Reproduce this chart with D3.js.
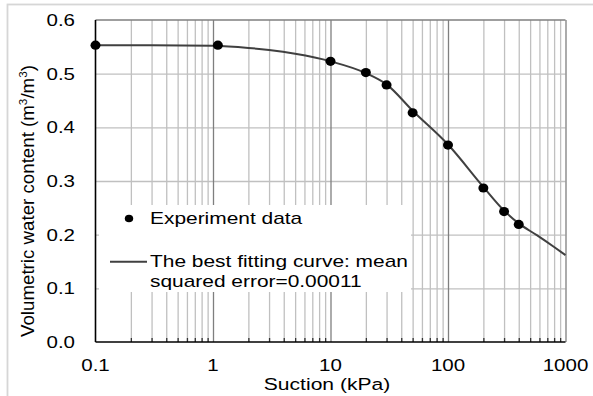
<!DOCTYPE html>
<html>
<head>
<meta charset="utf-8">
<script src="https://cdn.jsdelivr.net/npm/d3@7"></script>
<style>
  body { margin: 0; background: #fff; }
  text { font-family: "Liberation Sans", Arial, sans-serif; fill: #000; }
</style>
</head>
<body>
<svg id="chart" width="593" height="396"></svg>
<script>
// Measured soil-water retention points
const suction = [0.1, 1.1, 10, 20, 30, 50, 100, 200, 300, 400];
const waterContent = [0.553, 0.553, 0.523, 0.502, 0.479, 0.427, 0.367, 0.287, 0.243, 0.219];

// Best fitting curve, sampled along suction
const fitSuction = [0.1, 0.3, 1, 2, 3, 5, 10, 20, 30, 50, 100, 200, 300, 400, 570, 800, 1000];
const fitContent = [0.553, 0.553, 0.552, 0.548, 0.544, 0.537, 0.523, 0.501, 0.480, 0.431, 0.368, 0.289, 0.245, 0.221, 0.199, 0.177, 0.162];

// Axis ticks
const xTicks = [0.1, 1, 10, 100, 1000];
const xTickLabels = ["0.1", "1", "10", "100", "1000"];
const yTicks = [0, 0.1, 0.2, 0.3, 0.4, 0.5, 0.6];
const yTickLabels = ["0.0", "0.1", "0.2", "0.3", "0.4", "0.5", "0.6"];

const legendLabels = ["Experiment data", "The best fitting curve: mean", "squared error=0.00011"];

const svg = d3.select("#chart");
const plot = { left: 95.5, right: 565.5, top: 20, bottom: 342 };

const x = d3.scaleLog().domain([0.1, 1000]).range([plot.left, plot.right]);
const y = d3.scaleLinear().domain([0, 0.6]).range([plot.bottom, plot.top]);

// Minor decade lines 2..9 within every decade
const minorX = [];
[0.1, 1, 10, 100].forEach(d => { for (let k = 2; k <= 9; k++) minorX.push(+(d * k).toPrecision(3)); });

// Outer figure frame
svg.append("rect")
  .attr("x", 7.5).attr("y", 4.5).attr("width", 600).attr("height", 400)
  .attr("fill", "none").attr("stroke", "#d6d6d6").attr("stroke-width", 1.8);

// Horizontal grid
const gy = svg.append("g")
  .attr("transform", `translate(${plot.left},0)`)
  .call(d3.axisLeft(y).tickValues(yTicks.slice(1, 6)).tickSize(-(plot.right - plot.left)).tickFormat(""));
gy.select(".domain").remove();
gy.selectAll("line").attr("stroke", "#c0c0c0").attr("stroke-width", 1.3);

// Minor vertical grid
const gxMinor = svg.append("g")
  .attr("transform", `translate(0,${plot.bottom})`)
  .call(d3.axisBottom(x).tickValues(minorX).tickSize(-(plot.bottom - plot.top)).tickFormat(""));
gxMinor.select(".domain").remove();
gxMinor.selectAll("line").attr("stroke", "#c0c0c0").attr("stroke-width", 1.3);

// Major vertical grid
const gxMajor = svg.append("g")
  .attr("transform", `translate(0,${plot.bottom})`)
  .call(d3.axisBottom(x).tickValues(xTicks.slice(1)).tickSize(-(plot.bottom - plot.top)).tickFormat(""));
gxMajor.select(".domain").remove();
gxMajor.selectAll("line").attr("stroke", "#7f7f7f").attr("stroke-width", 1.3);

// Top frame of the plot area
svg.append("line")
  .attr("x1", plot.left).attr("x2", plot.right)
  .attr("y1", y(0.6)).attr("y2", y(0.6))
  .attr("stroke", "#7f7f7f").attr("stroke-width", 1.3);

// Legend background
svg.append("rect")
  .attr("x", 99).attr("y", 205).attr("width", 312).attr("height", 87)
  .attr("fill", "#fff");

// Minor ticks along the bottom axis
const gTicks = svg.append("g")
  .attr("transform", `translate(0,${plot.bottom})`)
  .call(d3.axisBottom(x).tickValues(minorX).tickSize(-4).tickFormat(""));
gTicks.select(".domain").remove();
gTicks.selectAll("line").attr("stroke", "#333").attr("stroke-width", 1.3);

// Axis lines
svg.append("line")
  .attr("x1", plot.left).attr("x2", plot.left).attr("y1", plot.top).attr("y2", plot.bottom)
  .attr("stroke", "#000").attr("stroke-width", 1.6);
svg.append("line")
  .attr("x1", plot.left).attr("x2", plot.right).attr("y1", plot.bottom).attr("y2", plot.bottom)
  .attr("stroke", "#000").attr("stroke-width", 1.6);

// Fitted curve
const fit = fitSuction.map((s, i) => [s, fitContent[i]]);
svg.append("path")
  .datum(fit)
  .attr("fill", "none")
  .attr("stroke", "#404040")
  .attr("stroke-width", 2)
  .attr("d", d3.line().x(d => x(d[0])).y(d => y(d[1])).curve(d3.curveMonotoneX));

// Experiment points
svg.append("g").selectAll("ellipse")
  .data(suction.map((s, i) => [s, waterContent[i]]))
  .join("ellipse")
  .attr("cx", d => x(d[0])).attr("cy", d => y(d[1]))
  .attr("rx", 5).attr("ry", 4.6)
  .attr("fill", "#000");

// Horizontally widened text helper
function label(px, py, str, size, anchor, sx) {
  return svg.append("text")
    .attr("transform", `translate(${px},${py}) scale(${sx},1)`)
    .attr("text-anchor", anchor)
    .style("font-size", size + "px")
    .text(str);
}

// Tick labels
yTicks.forEach((v, i) => label(75, y(v) + 6, yTickLabels[i], 16.3, "end", 1.26));
xTicks.forEach((v, i) => label(x(v), 370.5, xTickLabels[i], 16.3, "middle", 1.26));

// Axis titles
label(327, 390, "Suction (kPa)", 17, "middle", 1.24);

const yt = svg.append("text")
  .attr("transform", "translate(33.5,201) rotate(-90)")
  .attr("text-anchor", "middle")
  .attr("textLength", 272)
  .attr("lengthAdjust", "spacingAndGlyphs")
  .style("font-size", "17.5px");
yt.append("tspan").text("Volumetric water content (m");
yt.append("tspan").attr("dy", -7).style("font-size", "11px").text("3");
yt.append("tspan").attr("dy", 7).text("/m");
yt.append("tspan").attr("dy", -7).style("font-size", "11px").text("3");
yt.append("tspan").attr("dy", 7).text(")");

// Legend entries
svg.append("ellipse").attr("cx", 129).attr("cy", 218.5).attr("rx", 4.2).attr("ry", 3.8).attr("fill", "#000");
label(150, 224.3, legendLabels[0], 17, "start", 1.23);
svg.append("line").attr("x1", 110).attr("x2", 147).attr("y1", 261.7).attr("y2", 261.7)
  .attr("stroke", "#404040").attr("stroke-width", 2);
label(150, 267.3, legendLabels[1], 17, "start", 1.23);
label(150, 287, legendLabels[2], 17, "start", 1.23);
</script>
</body>
</html>
